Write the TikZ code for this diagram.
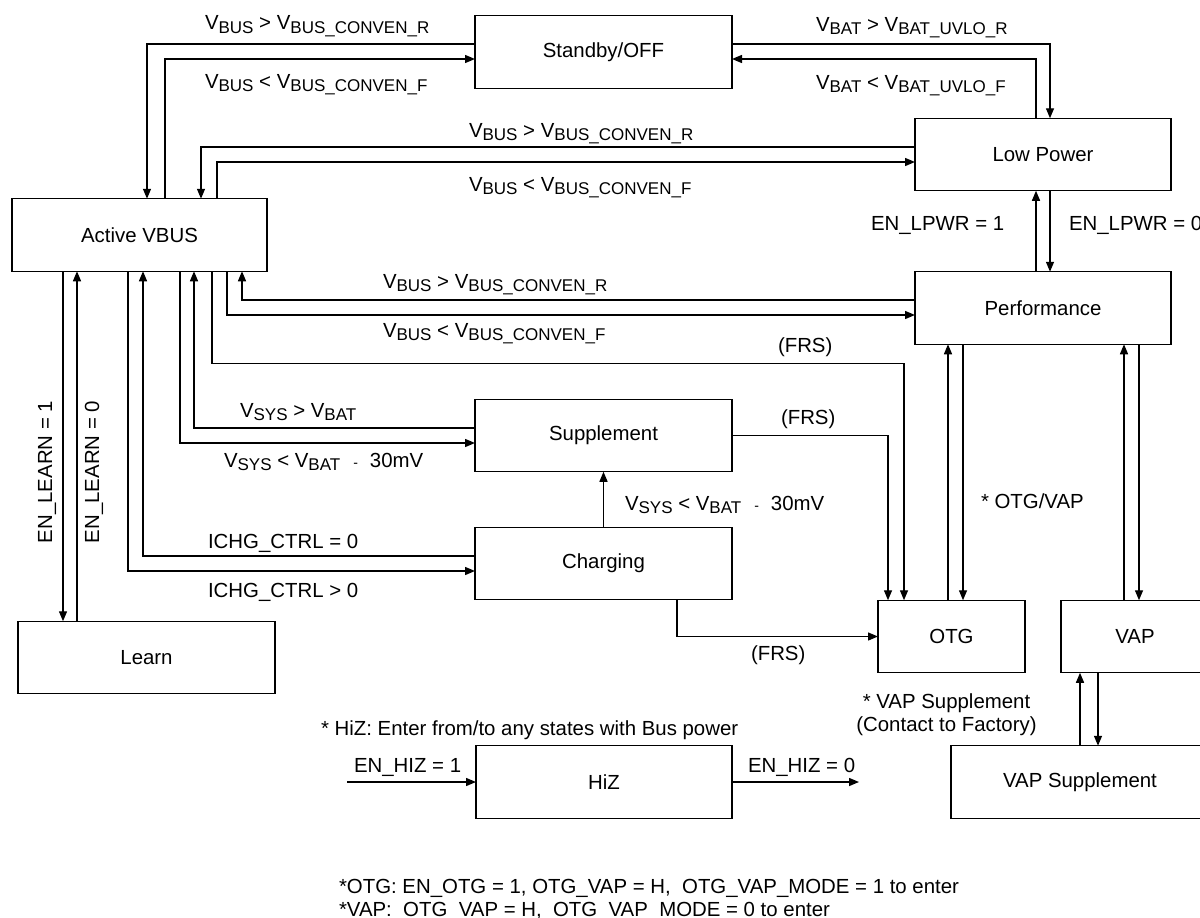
\documentclass[tikz,border=0pt]{standalone}
\usepackage{fontspec}
\setmainfont{Liberation Sans}
\usetikzlibrary{arrows.meta,calc}
\newcommand\sbs[1]{\raisebox{-3.5pt}{\fontsize{17}{17}\selectfont #1}}
\newcommand\dashgap{\hspace{13pt}{\fontsize{14}{14}\selectfont -}\hspace{12pt}}
\begin{document}
\begin{tikzpicture}[x=1pt,y=-1pt,
  every node/.style={font=\fontsize{20.4}{24}\selectfont},
  box/.style={draw, line width=1.4pt, inner sep=0pt, outer sep=0pt, minimum width=#1, minimum height=72.5pt},
  wire/.style={line width=1.4pt},
  arr/.style={wire, -{Triangle[length=10pt,width=8pt]}},
  lab/.style={anchor=base west, inner sep=0pt, outer sep=0pt},
  clab/.style={anchor=base, inner sep=0pt, outer sep=0pt}]
\path[use as bounding box, clip] (0,0) rectangle (1200,918);
\fill[white] (0,0) rectangle (1200,918);

% states
\node[box=255pt] (av) at (139.5,235) {Active VBUS};
\node[box=257pt] (learn) at (146.5,657.5) {Learn};
\node[box=257pt] (stby) at (603.5,52) {Standby/OFF};
\node[box=256pt] (lp) at (1043,154.5) {Low Power};
\node[box=256pt] (perf) at (1043,308) {Performance};
\node[box=257pt] (supp) at (603.5,435.5) {Supplement};
\node[box=257pt] (chg) at (603.5,563.5) {Charging};
\node[box=147pt] (otg) at (951.5,636.5) {OTG};
\node[box=148pt] (vap) at (1135,636.5) {VAP};
\node[box=256pt] (hiz) at (604,782) {HiZ};
\node[box=258pt] (vaps) at (1080,782) {VAP Supplement};
\coordinate (hin) at (347,782);
\coordinate (hout) at (859,782);

% connectors
\draw[arr] ($(stby.west)+(0,-8)$) -| ($(av.north west)+(135,0)$);
\draw[arr] ($(av.north west)+(153,0)$) |- ($(stby.west)+(0,7)$);
\draw[arr] ($(lp.west)+(0,-7.5)$) -| ($(av.north west)+(189,0)$);
\draw[arr] ($(av.north west)+(205,0)$) |- ($(lp.west)+(0,7.5)$);
\draw[arr] ($(stby.east)+(0,-8)$) -| ($(lp.north west)+(135,0)$);
\draw[arr] ($(lp.north west)+(121,0)$) |- ($(stby.east)+(0,7)$);
\draw[arr] ($(perf.north west)+(121,0)$) -- ($(lp.south west)+(121,0)$);
\draw[arr] ($(lp.south west)+(135,0)$) -- ($(perf.north west)+(135,0)$);
\draw[arr] ($(perf.west)+(0,-8)$) -| ($(av.south west)+(230,0)$);
\draw[arr] ($(av.south west)+(215,0)$) |- ($(perf.west)+(0,7)$);
\draw[arr] ($(av.south west)+(200,0)$) -- ($(av.south west)+(200,92)$) -| ($(otg.north west)+(26,0)$);
\draw[arr] ($(supp.west)+(0,-7.5)$) -| ($(av.south west)+(182,0)$);
\draw[arr] ($(av.south west)+(168,0)$) |- ($(supp.west)+(0,7.5)$);
\draw[arr] ($(chg.west)+(0,-7.5)$) -| ($(av.south west)+(131,0)$);
\draw[arr] ($(av.south west)+(116,0)$) |- ($(chg.west)+(0,7.5)$);
\draw[arr] ($(av.south west)+(51,0)$) -- ($(learn.north west)+(45,0)$);
\draw[arr] ($(learn.north west)+(59,0)$) -- ($(av.south west)+(65,0)$);
\draw[arr] (chg.north) -- (supp.south);
\draw[arr] (supp.east) -| ($(otg.north west)+(10,0)$);
\draw[arr] ($(chg.south west)+(202,0)$) |- (otg.west);
\draw[arr] ($(otg.north west)+(70,0)$) -- ($(perf.south west)+(33,0)$);
\draw[arr] ($(perf.south west)+(48,0)$) -- ($(otg.north west)+(85,0)$);
\draw[arr] ($(vap.north west)+(63,0)$) -- ($(perf.south west)+(209,0)$);
\draw[arr] ($(perf.south west)+(224,0)$) -- ($(vap.north west)+(78,0)$);
\draw[arr] ($(vaps.north west)+(129,0)$) -- ($(vap.south west)+(19,0)$);
\draw[arr] ($(vap.south west)+(37,0)$) -- ($(vaps.north west)+(147,0)$);
\draw[arr] (hin) -- (hiz.west);
\draw[arr] (hiz.east) -- (hout);

% labels
\node[lab] (t1) at (205,30) {V\sbs{BUS} > V\sbs{BUS\_CONVEN\_R}};
\node[lab] (t2) at (205,88) {V\sbs{BUS} < V\sbs{BUS\_CONVEN\_F}};
\node[lab] (t3) at (816,31) {V\sbs{BAT} > V\sbs{BAT\_UVLO\_R}};
\node[lab] (t4) at (816,89) {V\sbs{BAT} < V\sbs{BAT\_UVLO\_F}};
\node[lab] (t5) at (469,137) {V\sbs{BUS} > V\sbs{BUS\_CONVEN\_R}};
\node[lab] (t6) at (469,191) {V\sbs{BUS} < V\sbs{BUS\_CONVEN\_F}};
\node[lab] (t7) at (871,230) {EN\_LPWR = 1};
\node[lab] (t8) at (1069,230) {EN\_LPWR = 0};
\node[lab] (t9) at (383,288) {V\sbs{BUS} > V\sbs{BUS\_CONVEN\_R}};
\node[lab] (t10) at (383,337) {V\sbs{BUS} < V\sbs{BUS\_CONVEN\_F}};
\node[lab] (t11) at (778,352) {(FRS)};
\node[lab] (t12) at (240,417) {V\sbs{SYS} > V\sbs{BAT}};
\node[lab] (t13) at (224,467) {V\sbs{SYS} < V\sbs{BAT}\dashgap 30mV};
\node[lab] (t14) at (781,424) {(FRS)};
\node[lab] (t15) at (625,510) {V\sbs{SYS} < V\sbs{BAT}\dashgap 30mV};
\node[lab] (t16) at (981,508) {* OTG/VAP};
\node[lab] (t17) at (208,548) {ICHG\_CTRL = 0};
\node[lab] (t18) at (208,597) {ICHG\_CTRL > 0};
\node[lab] (t19) at (751,660) {(FRS)};
\node[clab, rotate=90] (t20) at (52,472) {EN\_LEARN = 1};
\node[clab, rotate=90] (t21) at (99,472) {EN\_LEARN = 0};
\node[clab] (t22) at (946.5,708) {* VAP Supplement};
\node[clab] (t23) at (946.5,731) {(Contact to Factory)};
\node[lab] (t24) at (321,735) {* HiZ: Enter from/to any states with Bus power};
\node[lab] (t25) at (354,772) {EN\_HIZ = 1};
\node[lab] (t26) at (748,772) {EN\_HIZ = 0};
\node[lab] (t27) at (339,893) {*OTG: EN\_OTG = 1, OTG\_VAP = H,\ \ OTG\_VAP\_MODE = 1 to enter};
\node[lab] (t28) at (339,916.5) {*VAP:\ \ OTG\_VAP = H,\ \ OTG\_VAP\_MODE = 0 to enter};
\end{tikzpicture}
\end{document}
